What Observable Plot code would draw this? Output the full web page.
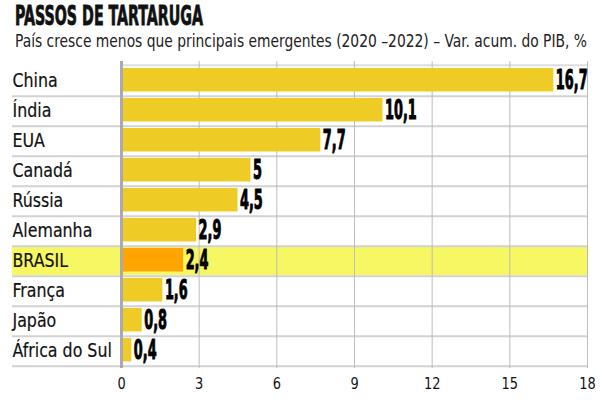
<!DOCTYPE html>
<html>
<head>
<meta charset="utf-8">
<script src="https://cdn.jsdelivr.net/npm/d3@7"></script>
<script src="https://cdn.jsdelivr.net/npm/@observablehq/plot@0.6"></script>
<style>
  html, body { margin: 0; padding: 0; background: #fff; width: 600px; height: 412px; overflow: hidden; position: relative; }
  #title { position: absolute; left: 15px; top: 0px; height: 31px; line-height: 31px; white-space: nowrap;
           font-family: "DejaVu Sans Condensed", "DejaVu Sans"; font-weight: bold; font-size: 27px; color: #111;
           -webkit-text-stroke: 0.8px #111; transform-origin: 0 50%; }
  #subtitle { position: absolute; left: 15px; top: 26px; height: 30px; line-height: 30px; white-space: nowrap;
           font-family: "DejaVu Sans Condensed", "DejaVu Sans"; font-size: 18px; color: #222; transform-origin: 0 50%; }
  #chart { position: absolute; left: 0; top: 55px; }
  #chart svg { display: block; }
</style>
</head>
<body>
<div id="title">PASSOS DE TARTARUGA</div>
<div id="subtitle">País cresce menos que principais emergentes (2020 –2022) – Var. acum. do PIB, %</div>
<div id="chart"></div>
<script>
const countries = ["China", "Índia", "EUA", "Canadá", "Rússia", "Alemanha", "BRASIL", "França", "Japão", "África do Sul"];
const values = [16.7, 10.1, 7.7, 5, 4.5, 2.9, 2.4, 1.6, 0.8, 0.4];
const highlight = "BRASIL";
const xTicks = [0, 3, 6, 9, 12, 15, 18];

const data = countries.map((c, i) => ({country: c, value: values[i]}));
const fmt = v => String(v).replace(".", ",");

const W = 600, H = 357, mT = 6, mB = 44, mL = 12, mR = 13;
const band = (H - mT - mB) / countries.length;
const FONT = "'DejaVu Sans Condensed', 'DejaVu Sans', sans-serif";

const chart = Plot.plot({
  width: W, height: H,
  marginTop: mT, marginBottom: mB, marginLeft: mL, marginRight: mR,
  style: {fontFamily: FONT, color: "#111", background: "transparent"},
  x: {domain: [0, 18], range: [121, 587], axis: null},
  y: {domain: countries, padding: 0, axis: null},
  marks: [
    Plot.ruleY([highlight], {stroke: "#f7f763", strokeWidth: band - 1}),
    Plot.ruleY(countries, {stroke: "#d2d2d2", strokeWidth: 2, dy: band / 2 + 0.5}),
    Plot.ruleY([countries[0]], {x1: 0, x2: 18, stroke: "#dddddd", strokeWidth: 2, dy: -band / 2}),
    Plot.ruleX(xTicks.filter(t => t > 0), {stroke: "#bdbdbd", strokeWidth: 1}),
    Plot.barX(data, {x: "value", y: "country", fill: d => d.country === highlight ? "#ffa500" : "#eecc25", insetTop: 3, insetBottom: 3.5}),
    Plot.ruleX([0], {stroke: "#aaaaaa", strokeWidth: 3}),
    Plot.axisX({ticks: xTicks, tickSize: 0, tickPadding: 9, fontSize: 16, label: null, tickFormat: d => String(d)}),
    Plot.text(data, {y: "country", text: "country", frameAnchor: "left", textAnchor: "start", fontSize: 20, fill: "#111", stroke: "#111", strokeWidth: 0.2}),
    Plot.text(data, {x: "value", y: "country", text: d => fmt(d.value), textAnchor: "start", dx: 2, fontSize: 27, fontWeight: "bold", fill: "#000", stroke: "#000", strokeWidth: 1})
  ]
});
document.getElementById("chart").appendChild(chart);

function squeeze(el, s) {
  const x = parseFloat(el.getAttribute("x")) || 0;
  const t = el.getAttribute("transform") || "";
  el.setAttribute("transform", (t ? t + " " : "") + `translate(${x},0) scale(${s},1) translate(${-x},0)`);
}
const textGroups = chart.querySelectorAll('g[aria-label="text"]');
if (textGroups.length >= 2) {
  textGroups[0].querySelectorAll("text").forEach(el => squeeze(el, 0.88));
  textGroups[1].querySelectorAll("text").forEach(el => squeeze(el, 0.53));
}
chart.querySelectorAll('g[aria-label="x-axis tick label"] text').forEach(el => squeeze(el, 0.9));

function fit(sel, target) {
  const el = document.querySelector(sel);
  const w = el.getBoundingClientRect().width;
  el.style.transform = `scaleX(${target / w})`;
}
fit("#title", 188);
fit("#subtitle", 572);
</script>
</body>
</html>
